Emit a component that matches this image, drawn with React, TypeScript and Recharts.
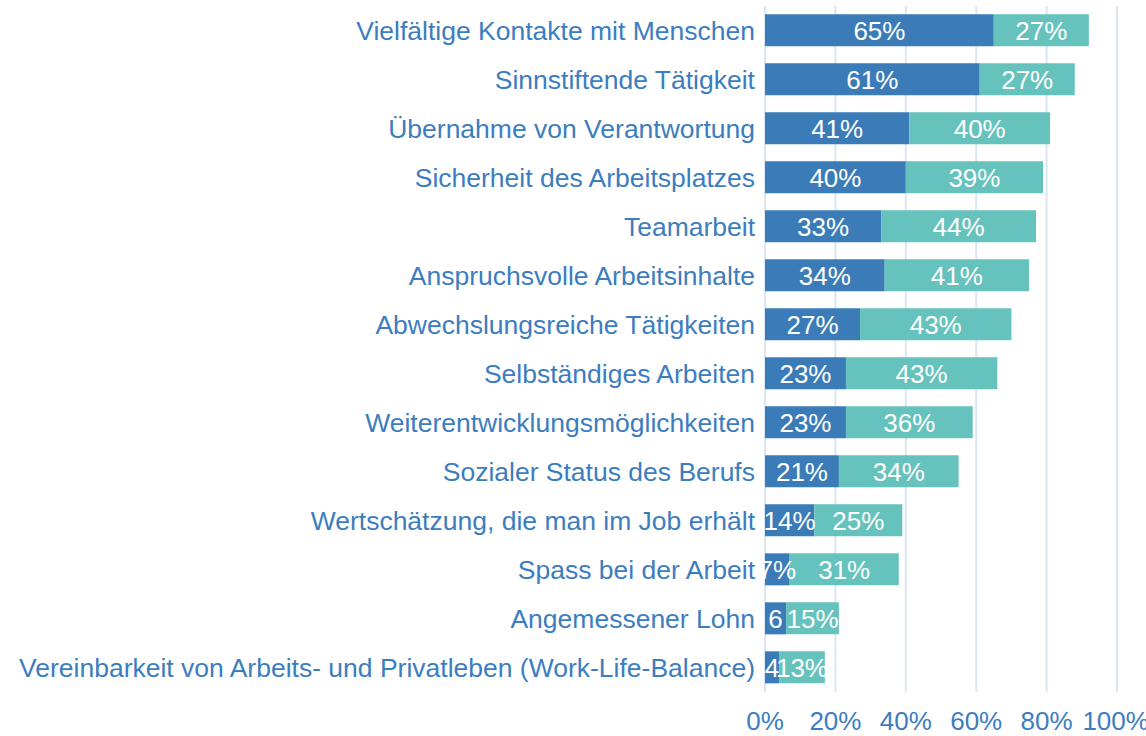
import { BarChart, Bar, XAxis, YAxis, CartesianGrid, LabelList } from 'recharts';

const categories = [
  'Vielfältige Kontakte mit Menschen',
  'Sinnstiftende Tätigkeit',
  'Übernahme von Verantwortung',
  'Sicherheit des Arbeitsplatzes',
  'Teamarbeit',
  'Anspruchsvolle Arbeitsinhalte',
  'Abwechslungsreiche Tätigkeiten',
  'Selbständiges Arbeiten',
  'Weiterentwicklungsmöglichkeiten',
  'Sozialer Status des Berufs',
  'Wertschätzung, die man im Job erhält',
  'Spass bei der Arbeit',
  'Angemessener Lohn',
  'Vereinbarkeit von Arbeits- und Privatleben (Work-Life-Balance)',
];

const strongValues = [65, 61, 41, 40, 33, 34, 27, 23, 23, 21, 14, 7, 6, 4];
const rather = [27, 27, 40, 39, 44, 41, 43, 43, 36, 34, 25, 31, 15, 13];

const xTicks = [0, 20, 40, 60, 80, 100];

const data = categories.map((name, i) => ({ name, strong: strongValues[i], rather: rather[i] }));

const TEXT = '#3C7DC0';
const FONT = 'Arial, "Liberation Sans", sans-serif';

// Excel cuts the % sign off when the segment is too thin
const fmt = (v: any) => (Number(v) < 7 ? `${v}` : `${v}%`);

export default function App() {
  return (
    <div style={{ width: 1146, height: 736, fontFamily: FONT }}>
      <style>{'body{margin:0}'}</style>
      <BarChart
        width={1146}
        height={736}
        data={data}
        layout="vertical"
        margin={{ top: 6, right: 29, left: 0, bottom: 0 }}
        barCategoryGap="17%"
      >
        <CartesianGrid horizontal={false} stroke="#DCE6F2" strokeWidth={2} />
        <XAxis
          type="number"
          domain={[0, 100]}
          ticks={xTicks}
          tickFormatter={(v) => `${v}%`}
          axisLine={false}
          tickLine={false}
          tick={{ fill: TEXT, fontSize: 26, fontFamily: FONT }}
          tickMargin={14}
          height={44}
        />
        <YAxis
          type="category"
          dataKey="name"
          width={765}
          axisLine={false}
          tickLine={false}
          tickMargin={4}
          interval={0}
          tick={{ fill: TEXT, fontSize: 26.5, fontFamily: FONT }}
        />
        <Bar dataKey="strong" stackId="a" fill="#3B7CB8" isAnimationActive={false}>
          <LabelList dataKey="strong" position="center" formatter={fmt} fill="#FFFFFF" fontSize={26} fontFamily={FONT} />
        </Bar>
        <Bar dataKey="rather" stackId="a" fill="#66C2BD" isAnimationActive={false}>
          <LabelList dataKey="rather" position="center" formatter={fmt} fill="#FFFFFF" fontSize={26} fontFamily={FONT} />
        </Bar>
      </BarChart>
    </div>
  );
}
